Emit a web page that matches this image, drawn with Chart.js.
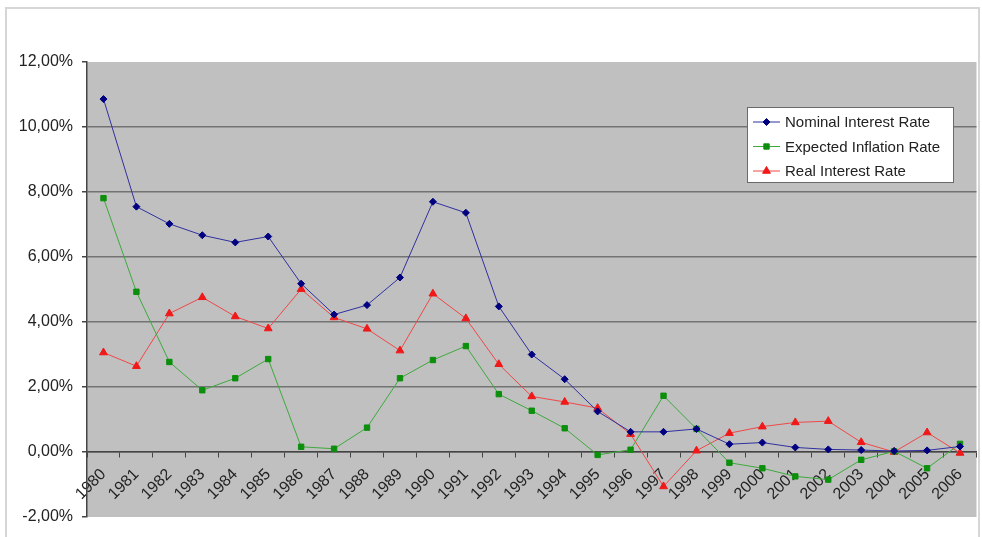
<!DOCTYPE html>
<html>
<head>
<meta charset="utf-8">
<script src="https://cdn.jsdelivr.net/npm/chart.js@4/dist/chart.umd.min.js"></script>
<style>
  html, body { margin: 0; padding: 0; background: #fff; }
  #wrap { width: 982px; height: 537px; }
</style>
</head>
<body>
<div id="wrap"><canvas id="ratesChart" width="982" height="537"></canvas></div>
<script>
const years = ['1980', '1981', '1982', '1983', '1984', '1985', '1986', '1987', '1988', '1989',
    '1990', '1991', '1992', '1993', '1994', '1995', '1996', '1997', '1998', '1999',
    '2000', '2001', '2002', '2003', '2004', '2005', '2006'];
const nominalRate = [10.86, 7.55, 7.02, 6.67, 6.45, 6.63, 5.18, 4.23, 4.52, 5.37,
    7.70, 7.36, 4.48, 3.00, 2.24, 1.25, 0.62, 0.62, 0.71, 0.24,
    0.29, 0.14, 0.08, 0.06, 0.03, 0.05, 0.17];
const expectedInflation = [7.81, 4.93, 2.77, 1.90, 2.27, 2.86, 0.16, 0.10, 0.75, 2.27,
    2.83, 3.26, 1.78, 1.27, 0.73, -0.09, 0.07, 1.73, 0.71, -0.33,
    -0.50, -0.75, -0.85, -0.24, 0.02, -0.50, 0.25];
const realRate = [3.06, 2.64, 4.26, 4.76, 4.17, 3.80, 5.01, 4.14, 3.79, 3.12,
    4.87, 4.11, 2.70, 1.71, 1.54, 1.35, 0.55, -1.06, 0.04, 0.58,
    0.78, 0.91, 0.95, 0.30, 0.00, 0.60, -0.03];
const seriesNames = ['Nominal Interest Rate', 'Expected Inflation Rate', 'Real Interest Rate'];

const FONT = '"Liberation Sans", Arial, sans-serif';

// white page, light frame and grey plot area (Excel look)
const backgroundPlugin = {
    id: 'excelBackground',
    beforeDraw(chart) {
        const ctx = chart.ctx;
        const a = chart.chartArea;
        ctx.save();
        ctx.fillStyle = '#fff';
        ctx.fillRect(0, 0, chart.width, chart.height);
        ctx.strokeStyle = '#d6d6d6';
        ctx.lineWidth = 2;
        ctx.strokeRect(6, 8, 973, 540);
        ctx.fillStyle = '#c0c0c0';
        ctx.fillRect(a.left, a.top, a.right - a.left, a.bottom - a.top);
        ctx.restore();
    }
};

// legend box sitting inside the plot area
const boxLegendPlugin = {
    id: 'boxLegend',
    afterDraw(chart) {
        const ctx = chart.ctx;
        const x = 747, y = 107, w = 206, h = 75;
        ctx.save();
        ctx.fillStyle = '#fff';
        ctx.fillRect(x, y, w, h);
        ctx.strokeStyle = '#6a6a6a';
        ctx.lineWidth = 1;
        ctx.strokeRect(x + 0.5, y + 0.5, w, h);
        ctx.font = '15px ' + FONT;
        ctx.textBaseline = 'middle';
        chart.data.datasets.forEach((ds, i) => {
            const cy = y + 15 + i * 24.5;
            ctx.strokeStyle = ds.borderColor;
            ctx.lineWidth = 1;
            ctx.beginPath();
            ctx.moveTo(753, cy);
            ctx.lineTo(780, cy);
            ctx.stroke();
            ctx.fillStyle = ds.pointBackgroundColor;
            ctx.strokeStyle = ds.pointBorderColor;
            Chart.helpers.drawPoint(ctx, {
                pointStyle: ds.pointStyle,
                radius: ds.pointRadius,
                borderWidth: 1
            }, 766.5, cy);
            ctx.fillStyle = '#222';
            ctx.fillText(ds.label, 785, cy + 1);
        });
        ctx.restore();
    }
};

const ctx = document.getElementById('ratesChart').getContext('2d');
new Chart(ctx, {
    type: 'line',
    data: {
        labels: years,
        datasets: [
            {
                label: seriesNames[0],
                data: nominalRate,
                borderColor: '#3030a0',
                borderWidth: 1,
                pointStyle: 'rectRot',
                pointRadius: 3.5,
                pointBackgroundColor: '#000080',
                pointBorderColor: '#000080',
                tension: 0
            },
            {
                label: seriesNames[1],
                data: expectedInflation,
                borderColor: '#3daa3d',
                borderWidth: 1,
                pointStyle: 'rect',
                pointRadius: 3.8,
                pointBackgroundColor: '#0c8f0c',
                pointBorderColor: '#0c8f0c',
                tension: 0
            },
            {
                label: seriesNames[2],
                data: realRate,
                borderColor: '#f04848',
                borderWidth: 1,
                pointStyle: 'triangle',
                pointRadius: 4.5,
                pointBackgroundColor: '#f01818',
                pointBorderColor: '#f01818',
                tension: 0
            }
        ]
    },
    options: {
        responsive: false,
        animation: false,
        layout: {
            padding: { left: 0, top: 62, right: 5, bottom: 20 }
        },
        plugins: {
            legend: { display: false },
            tooltip: { enabled: false }
        },
        scales: {
            x: {
                position: { y: 0 },
                offset: true,
                grid: {
                    offset: true,
                    drawOnChartArea: false,
                    drawTicks: true,
                    tickLength: 5,
                    tickColor: '#444'
                },
                border: { display: true, color: '#444', width: 1.5 },
                ticks: {
                    minRotation: 45,
                    maxRotation: 45,
                    autoSkip: false,
                    padding: 8,
                    color: '#222',
                    font: { family: FONT, size: 16 }
                }
            },
            y: {
                min: -2,
                max: 12,
                afterFit(scale) {
                    scale.width = 87;
                },
                grid: {
                    color(c) {
                        const v = c.tick && c.tick.value;
                        return (v === 12 || v === -2) ? 'rgba(0,0,0,0)' : '#737373';
                    },
                    lineWidth: 1.5,
                    drawTicks: true,
                    tickLength: 5,
                    tickColor: '#444'
                },
                border: { display: true, color: '#444', width: 1.5 },
                ticks: {
                    stepSize: 2,
                    padding: 9,
                    color: '#222',
                    font: { family: FONT, size: 16 },
                    callback: function(value) {
                        return value.toFixed(2).replace('.', ',') + '%';
                    }
                }
            }
        }
    },
    plugins: [backgroundPlugin, boxLegendPlugin]
});
</script>
</body>
</html>
